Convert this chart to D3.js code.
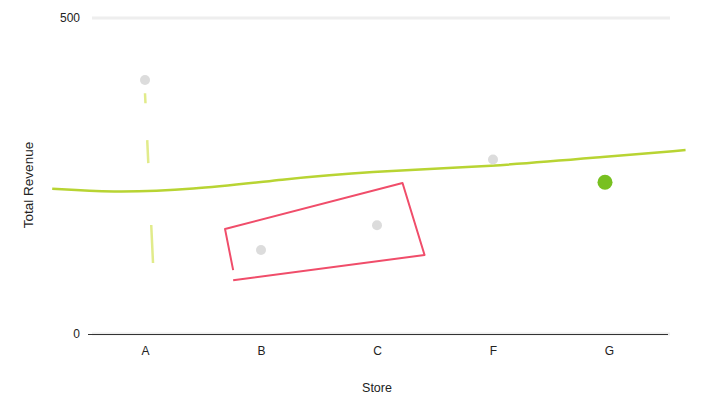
<!DOCTYPE html>
<html><head><meta charset="utf-8">
<script src="https://cdn.jsdelivr.net/npm/d3@7"></script>
<style>body{margin:0;background:#fff;} text{font-family:"Liberation Sans",Arial,sans-serif;}</style>
</head><body><svg id="c" width="705" height="405"></svg>
<script>
const stores = ["A","B","C","F","G"];
const revenue = [402, 133, 172, 276, 240];
const highlightStore = "G";
const yTicks = [0, 500];
// trend line: [store index position, value]
const trendIdx = [-0.80,-0.3,0.4,1.2,1.9,3,4.0,4.66];
const trendVal = [230,224,228,245,257,265,281,291];
// dashed range at store A: [index, value]
const rangeIdx = [0, 0.07];
const rangeVal = [381, 109];
// red annotation outline: [index, value]
const boxIdx = [0.76,0.69,2.22,2.41,0.76];
const boxVal = [101,166,239,125,85];

const svg = d3.select("#c");
const x = d3.scalePoint().domain(stores).range([87,667]).padding(0.5);
const step = x.step();
const xi = d3.scaleLinear().domain([0,1]).range([x(stores[0]), x(stores[0])+step]);
const y = d3.scaleLinear().domain([0,500]).range([334,18]);

// gridlines
svg.append("g").selectAll("line").data(yTicks).join("line")
  .attr("x1",92).attr("x2",670).attr("y1",d=>y(d)).attr("y2",d=>y(d))
  .attr("stroke","#eeeeee").attr("stroke-width",3);
// baseline
svg.append("line").attr("x1",88).attr("x2",668).attr("y1",y(0)+0.5).attr("y2",y(0)+0.5)
  .attr("stroke","#333").attr("stroke-width",1.2);

// y axis labels
const yAxis = d3.axisLeft(y).tickValues(yTicks).tickSize(0).tickPadding(8);
const gy = svg.append("g").attr("transform","translate(88,0)").call(yAxis);
gy.select(".domain").remove();
gy.selectAll("text").attr("font-size",12).attr("fill","#222").attr("font-family","Liberation Sans, Arial, sans-serif");

// x axis labels
const xAxis = d3.axisBottom(x).tickSize(0).tickPadding(12);
const gx = svg.append("g").attr("transform",`translate(0,${y(0)})`).call(xAxis);
gx.select(".domain").remove();
gx.selectAll("text").attr("font-size",12).attr("fill","#222").attr("font-family","Liberation Sans, Arial, sans-serif");

// axis titles
svg.append("text").attr("x",377).attr("y",392).attr("text-anchor","middle")
  .attr("font-size",12.5).attr("fill","#222").text("Store");
svg.append("text").attr("transform","translate(33,185) rotate(-90)").attr("text-anchor","middle")
  .attr("font-size",13.5).attr("fill","#222").text("Total Revenue");

// dashed range at A
svg.append("path")
  .attr("d", d3.line()(rangeIdx.map((d,i)=>[xi(d), y(rangeVal[i])])))
  .attr("stroke","#d4e25a").attr("stroke-width",2.5).attr("stroke-dasharray","10,37,23,62,38,20")
  .attr("opacity",0.7).attr("fill","none");

// trend line
svg.append("path")
  .attr("d", d3.line().curve(d3.curveBasis)(trendIdx.map((d,i)=>[xi(d), y(trendVal[i])])))
  .attr("stroke","#b8d433").attr("stroke-width",2.5).attr("fill","none");

// red box
svg.append("path")
  .attr("d", d3.line()(boxIdx.map((d,i)=>[xi(d), y(boxVal[i])])))
  .attr("stroke","#f04d6a").attr("stroke-width",2).attr("fill","none").attr("stroke-linejoin","round");

// points
svg.append("g").selectAll("circle").data(stores).join("circle")
  .attr("cx",d=>x(d)+(d===highlightStore?-4:0)).attr("cy",(d,i)=>y(revenue[i]))
  .attr("r",d=>d===highlightStore?7.5:5)
  .attr("fill",d=>d===highlightStore?"#78c020":"#dcdcdc");
</script></body></html>
